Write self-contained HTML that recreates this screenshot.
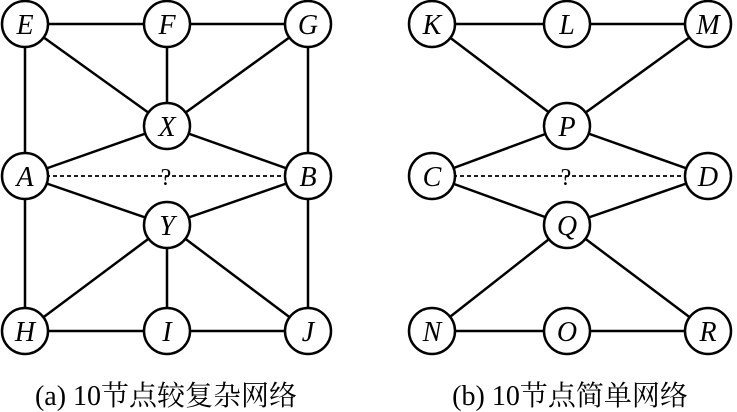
<!DOCTYPE html><html><head><meta charset="utf-8"><style>body{margin:0;background:#fff}svg{display:block}</style></head><body>
<svg width="737" height="412" xmlns="http://www.w3.org/2000/svg">
<g stroke="#000" stroke-width="2.5" fill="none">
<line x1="25" y1="24" x2="308" y2="24"/><line x1="25" y1="24" x2="25" y2="331"/><line x1="308" y1="24" x2="308" y2="331"/><line x1="25" y1="331" x2="308" y2="331"/>
<line x1="167" y1="24" x2="167" y2="126"/><line x1="25" y1="24" x2="167" y2="126"/><line x1="308" y1="24" x2="167" y2="126"/>
<line x1="25" y1="176" x2="167" y2="126"/><line x1="308" y1="176" x2="167" y2="126"/>
<line x1="25" y1="176" x2="167" y2="225"/><line x1="308" y1="176" x2="167" y2="225"/>
<line x1="167" y1="225" x2="167" y2="331"/><line x1="167" y1="225" x2="25" y2="331"/><line x1="167" y1="225" x2="308" y2="331"/>
<line x1="25" y1="176" x2="308" y2="176" stroke-dasharray="4,3" stroke-width="1.8"/>
<line x1="432" y1="24" x2="708" y2="24"/><line x1="432" y1="331" x2="708" y2="331"/>
<line x1="432" y1="24" x2="567" y2="126"/><line x1="708" y1="24" x2="567" y2="126"/>
<line x1="432" y1="176" x2="567" y2="126"/><line x1="708" y1="176" x2="567" y2="126"/>
<line x1="432" y1="176" x2="567" y2="225"/><line x1="708" y1="176" x2="567" y2="225"/>
<line x1="567" y1="225" x2="432" y2="331"/><line x1="567" y1="225" x2="708" y2="331"/>
<line x1="432" y1="176" x2="708" y2="176" stroke-dasharray="4,3" stroke-width="1.8"/>
</g>
<g stroke="#000" stroke-width="2.5" fill="#fff">
<circle cx="25" cy="24" r="23"/><circle cx="167" cy="24" r="23"/><circle cx="308" cy="24" r="23"/>
<circle cx="167" cy="126" r="23"/><circle cx="25" cy="176" r="23"/><circle cx="308" cy="176" r="23"/>
<circle cx="167" cy="225" r="23"/><circle cx="25" cy="331" r="23"/><circle cx="167" cy="331" r="23"/><circle cx="308" cy="331" r="23"/>
<circle cx="432" cy="24" r="23"/><circle cx="567" cy="24" r="23"/><circle cx="708" cy="24" r="23"/>
<circle cx="567" cy="126" r="23"/><circle cx="432" cy="176" r="23"/><circle cx="708" cy="176" r="23"/>
<circle cx="567" cy="225" r="23"/><circle cx="432" cy="331" r="23"/><circle cx="567" cy="331" r="23"/><circle cx="708" cy="331" r="23"/>
</g>
<g font-family="Liberation Serif, serif" font-style="italic" font-size="28" text-anchor="middle">
<text x="25" y="34">E</text><text x="167" y="34">F</text><text x="308" y="34">G</text>
<text x="167" y="136">X</text><text x="25" y="186">A</text><text x="308" y="186">B</text>
<text x="167" y="235">Y</text><text x="25" y="341">H</text><text x="167" y="341">I</text><text x="308" y="341">J</text>
<text x="432" y="34">K</text><text x="567" y="34">L</text><text x="708" y="34">M</text>
<text x="567" y="136">P</text><text x="432" y="186">C</text><text x="708" y="186">D</text>
<text x="567" y="235">Q</text><text x="432" y="341">N</text><text x="567" y="341">O</text><text x="708" y="341">R</text>
</g>
<g font-family="Liberation Serif, serif" font-size="24" text-anchor="middle">
<text x="166" y="185">?</text><text x="566" y="185">?</text>
</g>
<g font-family="Liberation Serif, 'Noto Serif CJK SC', serif" font-size="28" text-anchor="middle">
<text x="166" y="405">(a) 10节点较复杂网络</text><text x="570" y="405">(b) 10节点简单网络</text>
</g>
</svg></body></html>
